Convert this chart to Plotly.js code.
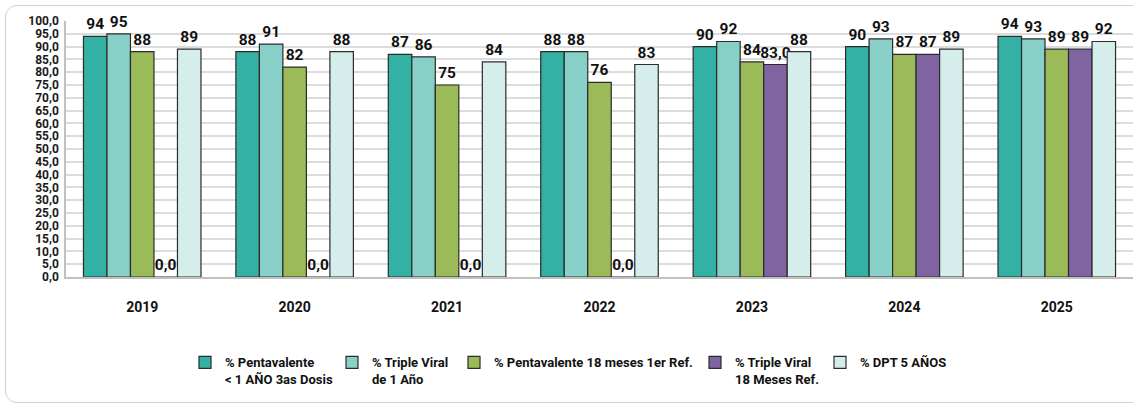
<!DOCTYPE html>
<html>
<head>
<meta charset="utf-8">
<script src="https://cdn.plot.ly/plotly-3.0.1.min.js"></script>
<style>
  html, body { margin:0; padding:0; background:#ffffff; overflow:hidden; width:1133px; height:406px; }
  #frame { position:absolute; left:5px; top:5px; width:1200px; height:398px; border:1px solid #d0d0d0; border-radius:12px; box-sizing:border-box; }
  #chart { position:absolute; left:0; top:0; width:1133px; height:406px; }
</style>
</head>
<body>
<div id="frame"></div>
<div id="chart"></div>
<script>
// ---- data ----
const years = ['2019', '2020', '2021', '2022', '2023', '2024', '2025'];
const pentavalente = [94, 88, 87, 88, 90, 90, 94];
const tripleViral1 = [95, 91, 86, 88, 92, 93, 93];
const penta18 = [88, 82, 75, 76, 84, 87, 89];
const tripleViral18 = [0, 0, 0, 0, 83, 87, 89];
const tripleViral18Labels = ['0,0', '0,0', '0,0', '0,0', '83,0', '87', '89'];
const dpt5 = [89, 88, 84, 83, 88, 89, 92];
const seriesNames = [
  '% Pentavalente<br>< 1 AÑO 3as Dosis',
  '% Triple Viral<br>de 1 Año',
  '% Pentavalente 18 meses 1er Ref.',
  '% Triple Viral<br>18 Meses Ref.',
  '% DPT 5 AÑOS'
];
const yTicks = [0,5,10,15,20,25,30,35,40,45,50,55,60,65,70,75,80,85,90,95,100];

// ---- styling ----
const FONT = 'Roboto, "Liberation Sans", Arial, sans-serif';
const colors = ['#33b1a4', '#88d0c7', '#9bbb59', '#8064a2', '#d6eeeb'];
const seriesValues = [pentavalente, tripleViral1, penta18, tripleViral18, dpt5];
const seriesLabels = [
  pentavalente.map(String),
  tripleViral1.map(String),
  penta18.map(String),
  tripleViral18Labels,
  dpt5.map(String)
];
const legendIds = ['legend', 'legend2', 'legend3', 'legend4', 'legend5'];
// legend left positions in pixels (page)
const legendPx = [185, 332, 454, 695, 820];
const L = 66, R = 0, T = 21, B = 129.3;
const W = 1133, H = 406;
const plotW = W - L - R, plotH = H - T - B;

const traces = seriesValues.map((vals, i) => ({
  type: 'bar',
  name: seriesNames[i],
  x: years,
  y: vals,
  text: seriesLabels[i],
  textposition: 'outside',
  constraintext: 'none',
  cliponaxis: false,
  textfont: { family: FONT, size: 15.5, color: '#111111', weight: 700 },
  marker: { color: colors[i], line: { color: '#2b2b2b', width: 1.2 } },
  legend: legendIds[i],
  showlegend: true,
  hoverinfo: 'x+y'
}));

const layout = {
  width: W, height: H, autosize: false,
  showlegend: true,
  margin: { l: L, r: R, t: T, b: B, pad: 0 },
  paper_bgcolor: 'rgba(0,0,0,0)',
  plot_bgcolor: 'rgba(0,0,0,0)',
  separators: ',.',
  barmode: 'group',
  bargap: 0.229,
  bargroupgap: 0,
  font: { family: FONT, color: '#1a1a1a' },
  xaxis: {
    type: 'category',
    range: [-0.5, 6.5],
    showline: true, linecolor: '#c0c0c0', linewidth: 1.5,
    ticks: '', showgrid: false,
    tickfont: { family: FONT, size: 14, color: '#111111', weight: 700 },
    ticklabelstandoff: 16
  },
  yaxis: {
    range: [0, 100],
    tickvals: yTicks,
    tickformat: '.1f',
    showline: true, linecolor: '#c0c0c0', linewidth: 1.5,
    showgrid: true, gridcolor: '#dcdcdc', gridwidth: 2,
    zeroline: false, ticks: '',
    tickfont: { family: FONT, size: 12, color: '#1a1a1a', weight: 700 },
    ticklabelstandoff: 3
  }
};

legendIds.forEach((id, i) => {
  layout[id] = {
    visible: true,
    x: (legendPx[i] - L) / plotW,
    xanchor: 'left',
    y: (T + plotH - 347) / plotH,
    yanchor: 'top',
    orientation: 'h',
    valign: 'top',
    bgcolor: 'rgba(0,0,0,0)',
    font: { family: FONT, size: 13, color: '#111111', weight: 700 },
    itemwidth: 30,
    traceorder: 'normal'
  };
});

Plotly.newPlot('chart', traces, layout, { displayModeBar: false, responsive: false });
</script>
</body>
</html>
